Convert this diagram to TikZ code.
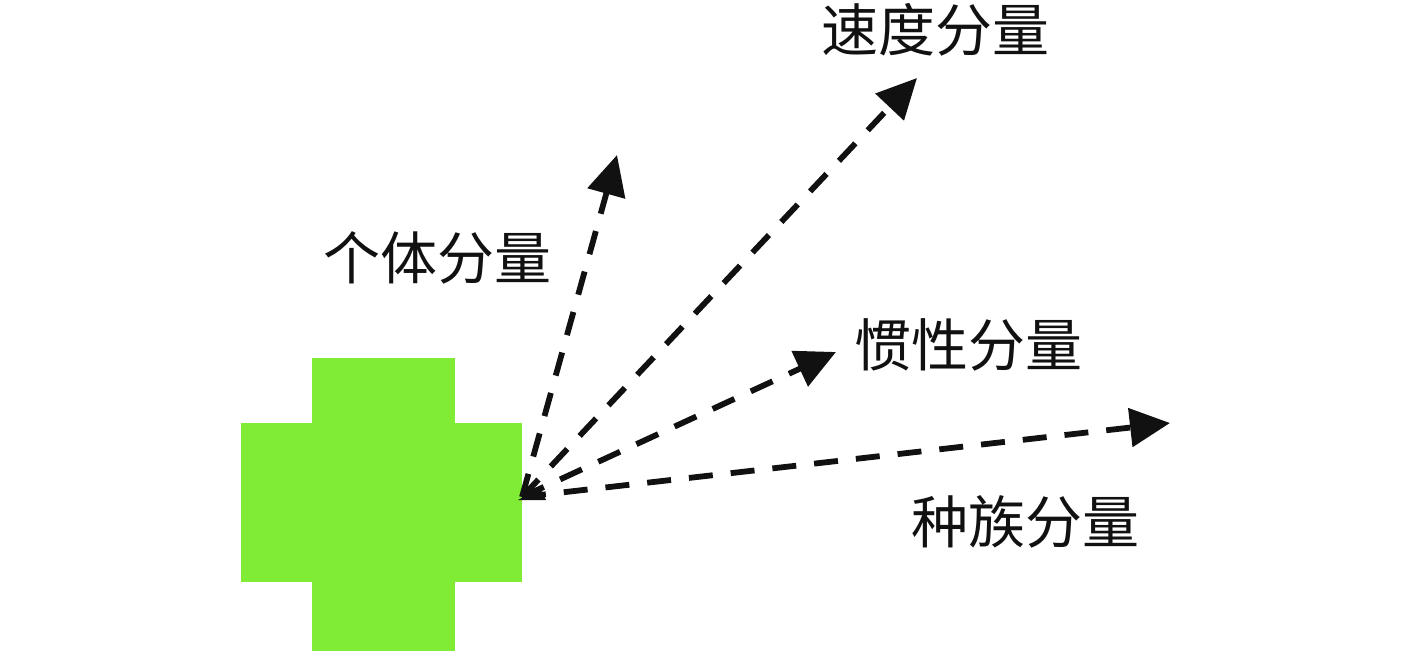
\documentclass[tikz,border=0pt]{standalone}
\usepackage{fontspec}
\newfontfamily\cjk{Noto Sans CJK SC}
\usetikzlibrary{arrows.meta}
\definecolor{ink}{HTML}{111111}
\definecolor{crossfill}{HTML}{80EC35}
\tikzset{
  comp/.style={font=\cjk\fontsize{28.5}{30}\selectfont, text=ink, inner sep=0pt},
  arrow/.style={-{Triangle[length=20pt, width=19pt]}, line width=2.9pt, draw=ink, dash pattern=on 12pt off 9pt}
}

\begin{document}
\begin{tikzpicture}[x=0.5pt, y=-0.5pt]
  \useasboundingbox (0,0) rectangle (1417,658);

  % green cross
  \fill[crossfill] (312,358) rectangle (455,651);
  \fill[crossfill] (241,423) rectangle (522,582);

  \coordinate (o) at (522,497);
  \coordinate (t1) at (617,155);
  \coordinate (t2) at (917,78);
  \coordinate (t3) at (836,352);
  \coordinate (t4) at (1170,423);

  \node[comp] (c1) at (437,258) {个体分量};
  \node[comp] (c2) at (935,30) {速度分量};
  \node[comp] (c3) at (968,345) {惯性分量};
  \node[comp] (c4) at (1025,522) {种族分量};

  \draw[arrow] (o) -- (t1);
  \draw[arrow] (o) -- (t2);
  \draw[arrow] (o) -- (t3);
  \draw[arrow] (o) -- (t4);
  \fill[ink] (518,500) -- (540,488) -- (546,500) -- cycle;
\end{tikzpicture}
\end{document}
